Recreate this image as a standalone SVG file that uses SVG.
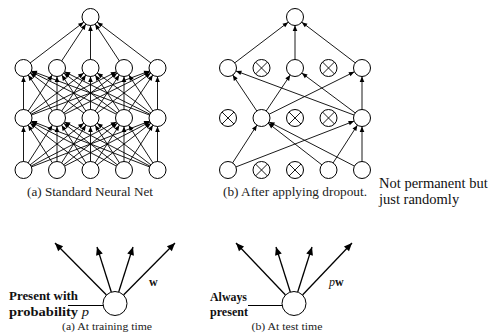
<svg xmlns="http://www.w3.org/2000/svg" width="502" height="336" viewBox="0 0 502 336">
<style>
.e{stroke:#000;stroke-width:0.9;fill:none;marker-end:url(#ah)}
.b{stroke:#000;stroke-width:1.3;fill:none;marker-end:url(#ab)}
.n{fill:#fff;stroke:#000;stroke-width:1}
.x{stroke:#000;stroke-width:0.9}
.cap{font-family:"Liberation Serif","DejaVu Serif",serif;fill:#222;text-anchor:middle}
.bold{font-family:"Liberation Serif","DejaVu Serif",serif;font-weight:bold;fill:#111}
.note{font-family:"Liberation Serif","Times New Roman",serif;font-size:14.5px;fill:#111}
</style>
<defs>
<marker id="ah" markerUnits="userSpaceOnUse" refX="8.5" refY="0" markerWidth="20" markerHeight="20" orient="auto" overflow="visible"><path d="M-5.5,-2.3 L0,0 L-5.5,2.3 z" fill="#000"/></marker>
<marker id="ab" markerUnits="userSpaceOnUse" refX="0" refY="0" markerWidth="20" markerHeight="20" orient="auto" overflow="visible"><path d="M-8,-3.5 L0,0 L-8,3.5 z" fill="#000"/></marker>
</defs>
<rect width="502" height="336" fill="#fff"/>
<g id="connectors">
<line class="e" x1="23.5" y1="170" x2="23.5" y2="118"/><line class="e" x1="23.5" y1="170" x2="57" y2="118"/><line class="e" x1="23.5" y1="170" x2="90.5" y2="118"/><line class="e" x1="23.5" y1="170" x2="124" y2="118"/><line class="e" x1="23.5" y1="170" x2="157.5" y2="118"/>
<line class="e" x1="57" y1="170" x2="23.5" y2="118"/><line class="e" x1="57" y1="170" x2="57" y2="118"/><line class="e" x1="57" y1="170" x2="90.5" y2="118"/><line class="e" x1="57" y1="170" x2="124" y2="118"/><line class="e" x1="57" y1="170" x2="157.5" y2="118"/>
<line class="e" x1="90.5" y1="170" x2="23.5" y2="118"/><line class="e" x1="90.5" y1="170" x2="57" y2="118"/><line class="e" x1="90.5" y1="170" x2="90.5" y2="118"/><line class="e" x1="90.5" y1="170" x2="124" y2="118"/><line class="e" x1="90.5" y1="170" x2="157.5" y2="118"/>
<line class="e" x1="124" y1="170" x2="23.5" y2="118"/><line class="e" x1="124" y1="170" x2="57" y2="118"/><line class="e" x1="124" y1="170" x2="90.5" y2="118"/><line class="e" x1="124" y1="170" x2="124" y2="118"/><line class="e" x1="124" y1="170" x2="157.5" y2="118"/>
<line class="e" x1="157.5" y1="170" x2="23.5" y2="118"/><line class="e" x1="157.5" y1="170" x2="57" y2="118"/><line class="e" x1="157.5" y1="170" x2="90.5" y2="118"/><line class="e" x1="157.5" y1="170" x2="124" y2="118"/><line class="e" x1="157.5" y1="170" x2="157.5" y2="118"/>
<line class="e" x1="23.5" y1="118" x2="23.5" y2="68"/><line class="e" x1="23.5" y1="118" x2="57" y2="68"/><line class="e" x1="23.5" y1="118" x2="90.5" y2="68"/><line class="e" x1="23.5" y1="118" x2="124" y2="68"/><line class="e" x1="23.5" y1="118" x2="157.5" y2="68"/>
<line class="e" x1="57" y1="118" x2="23.5" y2="68"/><line class="e" x1="57" y1="118" x2="57" y2="68"/><line class="e" x1="57" y1="118" x2="90.5" y2="68"/><line class="e" x1="57" y1="118" x2="124" y2="68"/><line class="e" x1="57" y1="118" x2="157.5" y2="68"/>
<line class="e" x1="90.5" y1="118" x2="23.5" y2="68"/><line class="e" x1="90.5" y1="118" x2="57" y2="68"/><line class="e" x1="90.5" y1="118" x2="90.5" y2="68"/><line class="e" x1="90.5" y1="118" x2="124" y2="68"/><line class="e" x1="90.5" y1="118" x2="157.5" y2="68"/>
<line class="e" x1="124" y1="118" x2="23.5" y2="68"/><line class="e" x1="124" y1="118" x2="57" y2="68"/><line class="e" x1="124" y1="118" x2="90.5" y2="68"/><line class="e" x1="124" y1="118" x2="124" y2="68"/><line class="e" x1="124" y1="118" x2="157.5" y2="68"/>
<line class="e" x1="157.5" y1="118" x2="23.5" y2="68"/><line class="e" x1="157.5" y1="118" x2="57" y2="68"/><line class="e" x1="157.5" y1="118" x2="90.5" y2="68"/><line class="e" x1="157.5" y1="118" x2="124" y2="68"/><line class="e" x1="157.5" y1="118" x2="157.5" y2="68"/>
<line class="e" x1="23.5" y1="68" x2="90.5" y2="17"/><line class="e" x1="57" y1="68" x2="90.5" y2="17"/><line class="e" x1="90.5" y1="68" x2="90.5" y2="17"/><line class="e" x1="124" y1="68" x2="90.5" y2="17"/><line class="e" x1="157.5" y1="68" x2="90.5" y2="17"/>
<line class="e" x1="228" y1="68" x2="295" y2="17"/><line class="e" x1="295" y1="68" x2="295" y2="17"/><line class="e" x1="362" y1="68" x2="295" y2="17"/>
<line class="e" x1="261.5" y1="118" x2="228" y2="68"/><line class="e" x1="362" y1="118" x2="228" y2="68"/>
<line class="e" x1="261.5" y1="118" x2="295" y2="68"/><line class="e" x1="362" y1="118" x2="295" y2="68"/>
<line class="e" x1="261.5" y1="118" x2="362" y2="68"/><line class="e" x1="362" y1="118" x2="362" y2="68"/>
<line class="e" x1="228" y1="170" x2="261.5" y2="118"/><line class="e" x1="228" y1="170" x2="362" y2="118"/>
<line class="e" x1="328.5" y1="170" x2="261.5" y2="118"/><line class="e" x1="362" y1="170" x2="261.5" y2="118"/>
<line class="e" x1="328.5" y1="170" x2="362" y2="118"/><line class="e" x1="362" y1="170" x2="362" y2="118"/>
<line class="b" x1="106.5" y1="295" x2="55" y2="243"/>
<line class="b" x1="111.3" y1="292" x2="97" y2="247"/>
<line class="b" x1="118.7" y1="292" x2="133" y2="247"/>
<line class="b" x1="123.5" y1="295" x2="175" y2="243"/>
<line x1="68" y1="305.5" x2="112" y2="305.5" stroke="#000" stroke-width="1.2"/>
<line class="b" x1="285.5" y1="295" x2="236" y2="243"/>
<line class="b" x1="290.3" y1="292" x2="276" y2="247"/>
<line class="b" x1="297.7" y1="292" x2="312" y2="247"/>
<line class="b" x1="302.5" y1="295" x2="352" y2="243"/>
<line x1="248" y1="305.5" x2="291" y2="305.5" stroke="#000" stroke-width="1.2"/>
</g>
<g id="a-top"><circle class="n" cx="90.5" cy="17" r="8.5"/></g>
<g id="a-h1"><circle class="n" cx="23.5" cy="68" r="8.5"/><circle class="n" cx="57" cy="68" r="8.5"/><circle class="n" cx="90.5" cy="68" r="8.5"/><circle class="n" cx="124" cy="68" r="8.5"/><circle class="n" cx="157.5" cy="68" r="8.5"/></g>
<g id="a-h2"><circle class="n" cx="23.5" cy="118" r="8.5"/><circle class="n" cx="57" cy="118" r="8.5"/><circle class="n" cx="90.5" cy="118" r="8.5"/><circle class="n" cx="124" cy="118" r="8.5"/><circle class="n" cx="157.5" cy="118" r="8.5"/></g>
<g id="a-in"><circle class="n" cx="23.5" cy="170" r="8.5"/><circle class="n" cx="57" cy="170" r="8.5"/><circle class="n" cx="90.5" cy="170" r="8.5"/><circle class="n" cx="124" cy="170" r="8.5"/><circle class="n" cx="157.5" cy="170" r="8.5"/></g>
<g id="b-top"><circle class="n" cx="295" cy="17" r="8.5"/></g>
<g id="b-h1"><circle class="n" cx="228" cy="68" r="8.5"/><circle class="n" cx="295" cy="68" r="8.5"/><circle class="n" cx="362" cy="68" r="8.5"/>
<circle class="n" cx="261.5" cy="68" r="8.5"/><path class="x" d="M255.5,62 l12,12 M267.5,62 l-12,12"/>
<circle class="n" cx="328.5" cy="68" r="8.5"/><path class="x" d="M322.5,62 l12,12 M334.5,62 l-12,12"/></g>
<g id="b-h2"><circle class="n" cx="261.5" cy="118" r="8.5"/><circle class="n" cx="362" cy="118" r="8.5"/>
<circle class="n" cx="228" cy="118" r="8.5"/><path class="x" d="M222,112 l12,12 M234,112 l-12,12"/>
<circle class="n" cx="295" cy="118" r="8.5"/><path class="x" d="M289,112 l12,12 M301,112 l-12,12"/>
<circle class="n" cx="328.5" cy="118" r="8.5"/><path class="x" d="M322.5,112 l12,12 M334.5,112 l-12,12"/></g>
<g id="b-in"><circle class="n" cx="228" cy="170" r="8.5"/><circle class="n" cx="328.5" cy="170" r="8.5"/><circle class="n" cx="362" cy="170" r="8.5"/>
<circle class="n" cx="261.5" cy="170" r="8.5"/><path class="x" d="M255.5,164 l12,12 M267.5,164 l-12,12"/>
<circle class="n" cx="295" cy="170" r="8.5"/><path class="x" d="M289,164 l12,12 M301,164 l-12,12"/></g>
<g id="train-node"><circle class="n" cx="115" cy="303.5" r="12" stroke-width="1.3"/></g>
<g id="test-node"><circle class="n" cx="294" cy="303.5" r="12" stroke-width="1.3"/></g>
<text class="cap" x="90" y="196" font-size="12" textLength="126" lengthAdjust="spacingAndGlyphs">(a) Standard Neural Net</text>
<text class="cap" x="295" y="196" font-size="12" textLength="144" lengthAdjust="spacingAndGlyphs">(b) After applying dropout.</text>
<text class="note" x="379" y="188">Not permanent but</text>
<text class="note" x="379" y="204">just randomly</text>
<text class="bold" x="9" y="300" font-size="12" textLength="69" lengthAdjust="spacingAndGlyphs">Present with</text>
<text class="bold" x="9" y="315.5" font-size="12" textLength="80" lengthAdjust="spacingAndGlyphs">probability <tspan font-style="italic" font-weight="normal">p</tspan></text>
<text class="bold" x="149" y="286" font-size="12">w</text>
<text class="bold" x="210" y="301" font-size="12" textLength="37" lengthAdjust="spacingAndGlyphs">Always</text>
<text class="bold" x="210" y="315.5" font-size="12" textLength="38" lengthAdjust="spacingAndGlyphs">present</text>
<text class="bold" x="329" y="286" font-size="12"><tspan font-style="italic" font-weight="normal">p</tspan>w</text>
<text class="cap" x="107" y="330" font-size="10.5" textLength="90" lengthAdjust="spacingAndGlyphs">(a) At training time</text>
<text class="cap" x="287" y="330" font-size="10.5" textLength="71" lengthAdjust="spacingAndGlyphs">(b) At test time</text>
</svg>
